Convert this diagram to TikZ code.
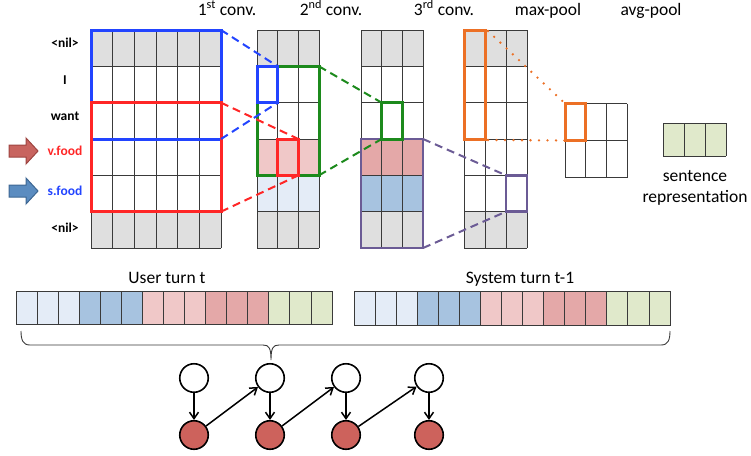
\documentclass[tikz,border=0pt]{standalone}
\usepackage{fontspec}
\setmainfont{Carlito}
\usetikzlibrary{arrows.meta}
\definecolor{cgray}{HTML}{DFDFDF}
\definecolor{clb}{HTML}{E4ECF7}
\definecolor{cbl}{HTML}{A7C3E0}
\definecolor{clp}{HTML}{F0C8C8}
\definecolor{cdp}{HTML}{E4A8A8}
\definecolor{cgr}{HTML}{E0E9CB}
\definecolor{gridc}{HTML}{3A3A3A}
\definecolor{bblue}{HTML}{2244FF}
\definecolor{bred}{HTML}{FF2626}
\definecolor{bgreen}{HTML}{1C8A1C}
\definecolor{bpurple}{HTML}{6B5B95}
\definecolor{borange}{HTML}{EC7025}
\definecolor{cnode}{HTML}{CD625C}
\definecolor{arrred}{HTML}{C8645F}
\definecolor{arrredd}{HTML}{9E4541}
\definecolor{arrblue}{HTML}{5B8CC0}
\definecolor{arrblued}{HTML}{3D6793}
\tikzset{
  gridline/.style={draw=gridc, line width=0.9pt},
  hbox/.style={line width=3pt},
  conn/.style={line width=2pt, dash pattern=on 8pt off 5pt},
  dotconn/.style={line width=2.6pt, line cap=round, dash pattern=on 0pt off 8.5pt, draw=borange},
  head/.style={font=\fontsize{17.5}{20}\selectfont, anchor=base, inner sep=0pt},
  wlabel/.style={font=\fontsize{13.5}{15}\selectfont\bfseries, inner sep=0pt},
  topc/.style={circle, draw=black, line width=1.6pt, fill=white, minimum size=28.5pt, inner sep=0pt},
  botc/.style={circle, draw=black, line width=1.6pt, fill=cnode, minimum size=28.5pt, inner sep=0pt},
  arr/.style={line width=1.5pt, -{Straight Barb[length=6.5pt,width=9pt]}},
  stripcell/.style={draw=gridc, line width=0.8pt},
}
\begin{document}
\begin{tikzpicture}[x=1pt,y=-1pt]
\useasboundingbox (0,0) rectangle (751,455);

% ---------- headers
\node[head] (h1) at (227,15) {1\textsuperscript{st} conv.};
\node[head] (h2) at (331,15) {2\textsuperscript{nd} conv.};
\node[head] (h3) at (444,15) {3\textsuperscript{rd} conv.};
\node[head] (h4) at (548,15) {max-pool};
\node[head] (h5) at (651,15) {avg-pool};

% ---------- word labels
\node[wlabel] (l1) at (65,43) {<nil>};
\node[wlabel] (l2) at (65,80) {I};
\node[wlabel] (l3) at (65,116) {want};
\node[wlabel, text=bred] (l4) at (65,151) {v.food};
\node[wlabel, text=bblue] (l5) at (65,191) {s.food};
\node[wlabel] (l6) at (65,228) {<nil>};

% ---------- fat arrows
\filldraw[fill=arrred, draw=arrredd, line width=1pt]
  (9,145) -- (26,145) -- (26,138) -- (38,151) -- (26,164) -- (26,157) -- (9,157) -- cycle;
\filldraw[fill=arrblue, draw=arrblued, line width=1pt]
  (9,185) -- (26,185) -- (26,178) -- (38,191) -- (26,204) -- (26,197) -- (9,197) -- cycle;

% ---------- matrix 1 (embeddings)
\fill[cgray] (91,30) rectangle (221,66.33);
\fill[cgray] (91,211.67) rectangle (221,248);
\foreach \i in {0,...,6} \draw[gridline] (91+\i*21.667,30) -- (91+\i*21.667,248);
\foreach \j in {0,...,6} \draw[gridline] (91,30+\j*36.333) -- (221,30+\j*36.333);

% ---------- matrix 2
\fill[cgray] (257,30) rectangle (319,66.33);
\fill[clp] (257,139) rectangle (319,175.33);
\fill[clb] (257,175.33) rectangle (319,211.67);
\fill[cgray] (257,211.67) rectangle (319,248);
\foreach \i in {0,...,3} \draw[gridline] (257+\i*20.667,30) -- (257+\i*20.667,248);
\foreach \j in {0,...,6} \draw[gridline] (257,30+\j*36.333) -- (319,30+\j*36.333);

% ---------- matrix 3
\fill[cgray] (361,30) rectangle (423,66.33);
\fill[cdp] (361,139) rectangle (423,175.33);
\fill[cbl] (361,175.33) rectangle (423,211.67);
\fill[cgray] (361,211.67) rectangle (423,248);
\foreach \i in {0,...,3} \draw[gridline] (361+\i*20.667,30) -- (361+\i*20.667,248);
\foreach \j in {0,...,6} \draw[gridline] (361,30+\j*36.333) -- (423,30+\j*36.333);

% ---------- matrix 4
\fill[cgray] (464,30) rectangle (527,66.33);
\fill[cgray] (464,211.67) rectangle (527,248);
\foreach \i in {0,...,3} \draw[gridline] (464+\i*21,30) -- (464+\i*21,248);
\foreach \j in {0,...,6} \draw[gridline] (464,30+\j*36.333) -- (527,30+\j*36.333);

% ---------- max-pool
\foreach \i in {0,...,3} \draw[gridline] (565+\i*20.667,103.5) -- (565+\i*20.667,177.5);
\foreach \j in {0,...,2} \draw[gridline] (565,103.5+\j*37) -- (627,103.5+\j*37);

% ---------- avg-pool
\fill[cgr] (663,123) rectangle (726,156);
\foreach \i in {0,...,3} \draw[gridline] (663+\i*21,123) -- (663+\i*21,156);
\foreach \j in {0,1} \draw[gridline] (663,123+\j*33) -- (726,123+\j*33);
\node[head] (s1) at (695,181) {sentence};
\node[head] (s2) at (695,202) {representation};

% ---------- highlight boxes
\draw[hbox, draw=bblue] (91,30) rectangle (221,139);
\draw[hbox, draw=bred] (91,102.67) rectangle (221,211.67);
\draw[hbox, draw=bgreen] (257,66.33) rectangle (319,175.33);
\draw[hbox, draw=bblue] (257,66.33) rectangle (277.67,102.67);
\draw[hbox, draw=bred] (277.67,139) rectangle (298.33,175.33);
\draw[hbox, draw=bpurple, line width=2.5pt] (361,139) rectangle (423,248);
\draw[hbox, draw=bgreen] (381.67,102.67) rectangle (402.33,139);
\draw[hbox, draw=borange] (464,30) rectangle (485,139);
\draw[hbox, draw=bpurple, line width=2.5pt] (506,175.33) rectangle (527,211.67);
\draw[hbox, draw=borange] (565,103.5) rectangle (585.67,140.5);

% ---------- corner coordinates
\coordinate (b1a) at (221,30);      \coordinate (b1b) at (221,139);
\coordinate (b2a) at (277.67,66.33);\coordinate (b2b) at (277.67,102.67);
\coordinate (r1a) at (221,102.67);  \coordinate (r1b) at (221,211.67);
\coordinate (r2a) at (298.33,139);  \coordinate (r2b) at (298.33,175.33);
\coordinate (g1a) at (319,66.33);   \coordinate (g1b) at (319,175.33);
\coordinate (g2a) at (381.67,102.67);\coordinate (g2b) at (381.67,139);
\coordinate (p1a) at (423,139);     \coordinate (p1b) at (423,248);
\coordinate (p2a) at (506,175.33);  \coordinate (p2b) at (506,211.67);
\coordinate (o1a) at (488,31);      \coordinate (o1b) at (488,140);
\coordinate (o2a) at (565,103.5);   \coordinate (o2b) at (565,140.5);

% ---------- connectors
\draw[conn, draw=bblue] (b1a) -- (b2a);
\draw[conn, draw=bblue] (b1b) -- (b2b);
\draw[conn, draw=bred] (r1a) -- (r2a);
\draw[conn, draw=bred] (r1b) -- (r2b);
\draw[conn, draw=bgreen] (g1a) -- (g2a);
\draw[conn, draw=bgreen] (g1b) -- (g2b);
\draw[conn, draw=bpurple] (p1a) -- (p2a);
\draw[conn, draw=bpurple] (p1b) -- (p2b);
\draw[dotconn] (o1a) -- (o2a);
\draw[dotconn] (o1b) -- (o2b);

% ---------- turn strips
\node[head] (u) at (167,283) {User turn t};
\node[head] (st) at (520,283) {System turn t-1};
\foreach \c [count=\k from 0] in {clb,clb,clb,cbl,cbl,cbl,clp,clp,clp,cdp,cdp,cdp,cgr,cgr,cgr}
  \filldraw[stripcell, fill=\c] (16+\k*21.067,291) rectangle ++(21.067,33);
\foreach \c [count=\k from 0] in {clb,clb,clb,cbl,cbl,cbl,clp,clp,clp,cdp,cdp,cdp,cgr,cgr,cgr}
  \filldraw[stripcell, fill=\c] (354+\k*21.067,291) rectangle ++(21.067,34);

% ---------- brace
\draw[draw=gridc, line width=0.9pt]
  (21,331) .. controls (21,340) and (23,345) .. (30,345) -- (263,345)
  .. controls (269,345) and (271,348) .. (271,360)
  .. controls (271,348) and (273,345) .. (279,345) -- (661,345)
  .. controls (668,345) and (670,340) .. (670,331);

% ---------- chain of nodes
\node[topc] (t1) at (194,378) {};
\node[topc] (t2) at (270,378) {};
\node[topc] (t3) at (346,378) {};
\node[topc] (t4) at (429,378) {};
\node[botc] (d1) at (194,435) {};
\node[botc] (d2) at (270,435) {};
\node[botc] (d3) at (346,435) {};
\node[botc] (d4) at (429,435) {};
\draw[arr] (t1) -- (d1);
\draw[arr] (t2) -- (d2);
\draw[arr] (t3) -- (d3);
\draw[arr] (t4) -- (d4);
\draw[arr] (d1) -- (t2);
\draw[arr] (d2) -- (t3);
\draw[arr] (d3) -- (t4);
\end{tikzpicture}
\end{document}
